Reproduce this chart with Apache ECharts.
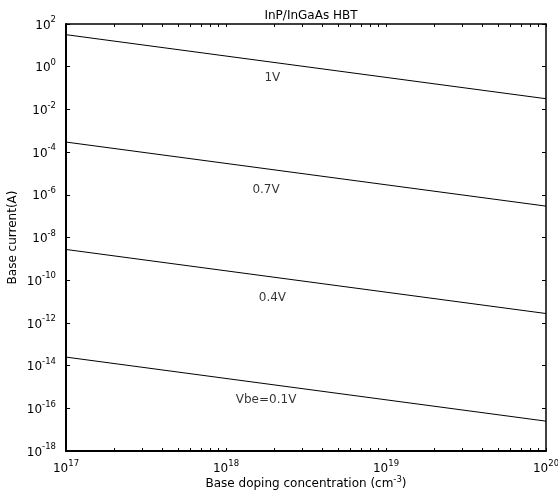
<!DOCTYPE html>
<html>
<head>
<meta charset="utf-8">
<script src="https://cdn.jsdelivr.net/npm/echarts@6/dist/echarts.min.js"></script>
<style>html,body{margin:0;padding:0;background:#fff}#c{width:558px;height:497px}</style>
</head>
<body>
<div id="c"></div>
<script>
// Data
const dopingX = [1e17, 1e18, 1e19, 1e20];
const seriesNames = ['1V', '0.7V', '0.4V', 'Vbe=0.1V'];
const current1V  = [31.6, 3.16, 0.316, 0.0316];
const current07V = [2.95e-4, 2.95e-5, 2.95e-6, 2.95e-7];
const current04V = [2.75e-9, 2.75e-10, 2.75e-11, 2.75e-12];
const current01V = [2.5e-14, 2.5e-15, 2.5e-16, 2.5e-17];
const labelX = [1.95e18, 1.78e18, 1.95e18, 1.78e18];
const labelY = [0.295, 1.68e-6, 1.48e-11, 2.45e-16];
const xTickValues = [];
for (let d = 17; d < 20; d++) for (let m = 1; m <= 9; m++) xTickValues.push(m * Math.pow(10, d));
xTickValues.push(1e20);
const xLabelValues = [1e17, 1e18, 1e19, 1e20];

const font = 'DejaVu Sans, sans-serif';
const rich = {
  b: {fontSize: 12, fontFamily: font, color: '#000', verticalAlign: 'bottom', lineHeight: 15},
  s: {fontSize: 8.5, fontFamily: font, color: '#000', verticalAlign: 'bottom', lineHeight: 15, padding: [0, 0, 7, 0]}
};
const powFmt = v => '{b|10}{s|' + Math.round(Math.log10(v)) + '}';

const series = [current1V, current07V, current04V, current01V].map((arr, i) => ({
  name: seriesNames[i], type: 'line', showSymbol: false, symbol: 'none',
  data: dopingX.map((x, j) => [x, arr[j]]),
  lineStyle: {color: '#000', width: 1}, silent: true
}));
series.push({
  type: 'scatter', symbolSize: 0, silent: true,
  data: labelX.map((x, i) => ({value: [x, labelY[i]], name: seriesNames[i]})),
  label: {show: true, position: 'inside', formatter: p => p.name, color: '#000', fontSize: 12, fontFamily: font}
});

const chart = echarts.init(document.getElementById('c'), null, {renderer: 'canvas'});
chart.setOption({
  animation: false,
  backgroundColor: '#fff',
  title: {text: 'InP/InGaAs HBT', left: 306, top: 5, textAlign: 'center',
    textStyle: {fontSize: 12, fontWeight: 'normal', fontFamily: font, color: '#000'}},
  grid: {left: 66, right: 12, top: 24, bottom: 46, containLabel: false, outerBoundsMode: 'none'},
  xAxis: [{
    type: 'log', min: 1e17, max: 1e20, position: 'bottom',
    name: 'Base doping concentration (cm{s|-3})', nameLocation: 'middle', nameGap: 25, nameMoveOverlap: false,
    nameTextStyle: {fontSize: 12, fontFamily: font, color: '#000', rich: {
      s: {fontSize: 8.5, fontFamily: font, color: '#000', verticalAlign: 'bottom', lineHeight: 15, padding: [0, 0, 7, 0]}}},
    axisLine: {lineStyle: {color: '#000', width: 2}},
    axisTick: {inside: true, length: 3, customValues: xTickValues, lineStyle: {color: '#000', width: 1}},
    axisLabel: {customValues: xLabelValues, formatter: powFmt, rich: rich, margin: 9, showMinLabel: true, showMaxLabel: true},
    splitLine: {show: false}
  }, {
    type: 'log', min: 1e17, max: 1e20, position: 'top',
    axisLine: {lineStyle: {color: '#000', width: 1.5}},
    axisTick: {inside: true, length: 3, customValues: xTickValues, lineStyle: {color: '#000', width: 1}},
    axisLabel: {show: false}, splitLine: {show: false}
  }],
  yAxis: [{
    type: 'log', min: 1e-18, max: 1e2, interval: 2, position: 'left',
    name: 'Base current(A)', nameLocation: 'middle', nameGap: 47, nameMoveOverlap: false,
    nameTextStyle: {fontSize: 12, fontFamily: font, color: '#000'},
    axisLine: {lineStyle: {color: '#000', width: 2}},
    axisTick: {inside: true, length: 4, lineStyle: {color: '#000', width: 1}},
    axisLabel: {formatter: powFmt, rich: rich, margin: 10, showMinLabel: true, showMaxLabel: true},
    splitLine: {show: false}
  }, {
    type: 'log', min: 1e-18, max: 1e2, interval: 2, position: 'right',
    axisLine: {lineStyle: {color: '#000', width: 1.5}},
    axisTick: {inside: true, length: 4, lineStyle: {color: '#000', width: 1}},
    axisLabel: {show: false}, splitLine: {show: false}
  }],
  series: series
});
</script>
</body>
</html>
